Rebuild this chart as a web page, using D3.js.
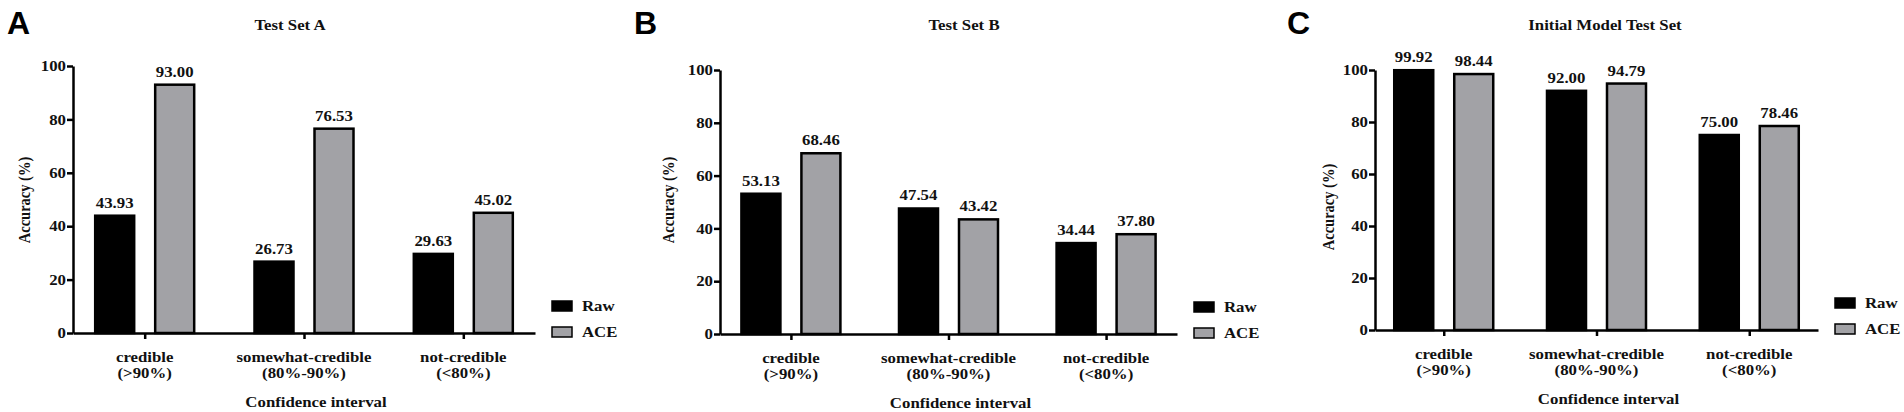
<!DOCTYPE html>
<html>
<head>
<meta charset="utf-8">
<script src="https://cdn.jsdelivr.net/npm/d3@7"></script>
<style>
  body { margin: 0; background: #fff; }
</style>
</head>
<body>
<svg id="chart" width="1904" height="412"></svg>
<script>
// categories and series
const categories = ['credible', 'somewhat-credible', 'not-credible']
const categoryRanges = ['(>90%)', '(80%-90%)', '(<80%)']
const seriesNames = ['Raw', 'ACE']
const yTicks = [0, 20, 40, 60, 80, 100]

// values per panel
const rawA = [43.93, 26.73, 29.63]
const aceA = [93.00, 76.53, 45.02]
const rawB = [53.13, 47.54, 34.44]
const aceB = [68.46, 43.42, 37.80]
const rawC = [99.92, 92.00, 75.00]
const aceC = [98.44, 94.79, 78.46]

const titles = ['Test Set A', 'Test Set B', 'Initial Model Test Set']
const letters = ['A', 'B', 'C']

// the source figure is a bit stretched sideways, so text is too
const SX = 1.2
const SERIF = "'Liberation Serif', 'Times New Roman', Times, 'DejaVu Serif', serif"
const colors = { Raw: '#000000', ACE: '#a2a2a6' }

const panels = [
    { letter: letters[0], title: titles[0], raw: rawA, ace: aceA,
      x0: 73, x1: 535, yTop: 66, yBot: 333, letterX: 7, titleX: 290, labelX: 24, labelY: 200 },
    { letter: letters[1], title: titles[1], raw: rawB, ace: aceB,
      x0: 720, x1: 1177, yTop: 70, yBot: 334, letterX: 634, titleX: 964, labelX: 668, labelY: 200 },
    { letter: letters[2], title: titles[2], raw: rawC, ace: aceC,
      x0: 1375, x1: 1818, yTop: 70, yBot: 330, letterX: 1287, titleX: 1605, labelX: 1328, labelY: 207 }
]

const svg = d3.select('#chart')

function stretchedText(g, x, y, str, size, anchor) {
    return g.append('text')
        .attr('transform', `translate(${x},${y}) scale(${SX},1)`)
        .attr('text-anchor', anchor || 'middle')
        .attr('font-family', SERIF)
        .attr('font-weight', 'bold')
        .attr('font-size', size)
        .attr('fill', '#111')
        .text(str)
}

panels.forEach(p => {
    const g = svg.append('g')

    const y = d3.scaleLinear().domain([0, 100]).range([p.yBot, p.yTop])
    const x = d3.scalePoint().domain(categories).range([p.x0, p.x1]).padding(0.45)
    const inner = d3.scaleBand().domain(seriesNames).range([-49.5, 49.5]).paddingInner(0.35)

    // panel letter
    g.append('text')
        .attr('x', p.letterX)
        .attr('y', 34)
        .attr('font-family', "'Liberation Sans', Arial, sans-serif")
        .attr('font-weight', 'bold')
        .attr('font-size', 32)
        .text(p.letter)

    stretchedText(g, p.titleX, 30, p.title, 14)

    // bars
    const rows = categories.map((c, i) => ({ cat: c, Raw: p.raw[i], ACE: p.ace[i] }))
    const groups = g.selectAll('.grp')
        .data(rows)
        .join('g')
            .attr('class', 'grp')
            .attr('transform', d => `translate(${x(d.cat)},0)`)

    groups.selectAll('rect')
        .data(d => seriesNames.map(s => ({ key: s, value: d[s] })))
        .join('rect')
            .attr('x', d => inner(d.key))
            .attr('width', inner.bandwidth())
            .attr('y', d => y(d.value))
            .attr('height', d => y(0) - y(d.value))
            .attr('fill', d => colors[d.key])
            .attr('stroke', '#000')
            .attr('stroke-width', 2.5)

    groups.each(function (d) {
        const grp = d3.select(this)
        seriesNames.forEach(s => {
            stretchedText(grp, inner(s) + inner.bandwidth() / 2, y(d[s]) - 8, d3.format('.2f')(d[s]), 14)
        })
    })

    // axes
    const yAxisG = g.append('g')
        .attr('transform', `translate(${p.x0},0)`)
        .call(d3.axisLeft(y).tickValues(yTicks).tickSize(6).tickSizeOuter(0))
    yAxisG.attr('font-family', SERIF).attr('font-size', 14).attr('font-weight', 'bold')
    yAxisG.selectAll('path, line').attr('stroke', '#000').attr('stroke-width', 2.5)
    yAxisG.selectAll('text')
        .attr('x', 0)
        .attr('transform', `translate(-7,0) scale(${SX},1)`)
        .attr('dy', '0.34em')
        .attr('fill', '#111')

    const xAxisG = g.append('g')
        .attr('transform', `translate(0,${p.yBot})`)
        .call(d3.axisBottom(x).tickSize(6).tickSizeOuter(0).tickFormat(''))
    xAxisG.selectAll('path, line').attr('stroke', '#000').attr('stroke-width', 2.5)

    categories.forEach((c, i) => {
        stretchedText(g, x(c), p.yBot + 29, c, 14)
        stretchedText(g, x(c), p.yBot + 45, categoryRanges[i], 14)
    })

    stretchedText(g, (p.x0 + p.x1) / 2 + 12, p.yBot + 74, 'Confidence interval', 14)

    // y label
    g.append('text')
        .attr('transform', `translate(${p.labelX},${p.labelY}) scale(${SX},1) rotate(-90)`)
        .attr('text-anchor', 'middle')
        .attr('dy', '0.35em')
        .attr('font-family', SERIF)
        .attr('font-weight', 'bold')
        .attr('font-size', 14.5)
        .attr('fill', '#111')
        .text('Accuracy (%)')

    // legend
    const leg = g.append('g').attr('transform', `translate(${p.x1 + 17},${p.yBot - 32})`)
    seriesNames.forEach((s, i) => {
        leg.append('rect')
            .attr('x', 0)
            .attr('y', i * 26)
            .attr('width', 20)
            .attr('height', 10)
            .attr('fill', colors[s])
            .attr('stroke', '#000')
            .attr('stroke-width', 1.5)
        stretchedText(leg, 30, i * 26 + 10, s, 14, 'start')
    })
})
</script>
</body>
</html>
